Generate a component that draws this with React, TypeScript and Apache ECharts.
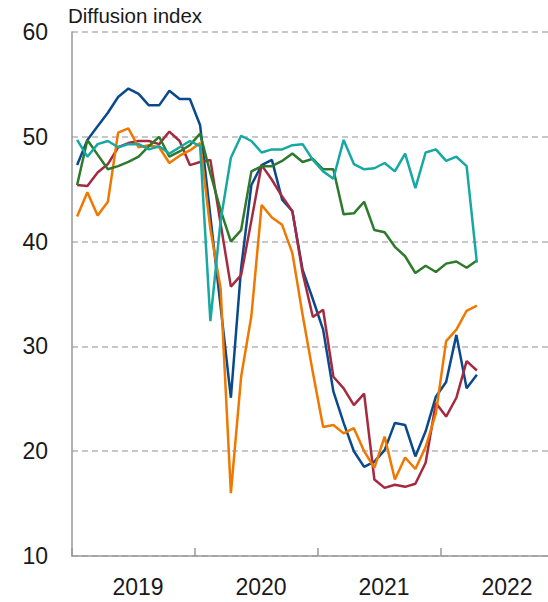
import React, { useEffect, useRef } from 'react';
import * as echarts from 'echarts';

// Monthly categories Jan 2019 .. Dec 2022 (points plotted mid-month)
const months: string[] = Array.from({ length: 48 }, (_, i) => `${2019 + Math.floor(i / 12)}-${String((i % 12) + 1).padStart(2, '0')}`);
const years = ['2019', '2020', '2021', '2022'];

const yMin = 10;
const yMax = 60;
const yStep = 10;
const yTitle = 'Diffusion index';

// Series values, Jan 2019 .. Apr 2022
const blueSeries = [47.3, 49.7, 51.0, 52.3, 53.8, 54.6, 54.1, 53.0, 53.0, 54.4, 53.6, 53.6, 51.1, 42.4, 33.8, 25.1, 37.5, 45.4, 47.3, 47.8, 44.0, 42.9, 37.3, 34.5, 31.6, 25.7, 22.7, 20.0, 18.5, 19.0, 20.1, 22.7, 22.5, 19.5, 21.9, 25.2, 26.6, 31.1, 26.0, 27.3];
const redSeries = [45.4, 45.3, 46.6, 47.4, 49.0, 49.4, 49.6, 49.6, 49.3, 50.5, 49.6, 47.3, 47.6, 47.8, 41.7, 35.7, 36.8, 42.0, 47.3, 45.9, 44.3, 42.9, 37.0, 32.8, 33.5, 27.1, 26.0, 24.4, 25.5, 17.3, 16.5, 16.8, 16.6, 16.9, 18.9, 24.6, 23.3, 25.1, 28.6, 27.7];
const orangeSeries = [42.4, 44.7, 42.5, 43.8, 50.4, 50.8, 49.0, 49.2, 49.0, 47.5, 48.2, 48.7, 49.4, 41.2, 35.5, 16.0, 27.1, 32.9, 43.5, 42.3, 41.6, 38.9, 33.0, 27.5, 22.3, 22.5, 21.7, 22.2, 20.0, 18.4, 21.4, 17.3, 19.4, 18.3, 20.4, 23.6, 30.5, 31.6, 33.4, 33.9];
const greenSeries = [45.4, 49.7, 48.3, 46.9, 47.2, 47.6, 48.1, 49.1, 50.0, 48.1, 48.6, 49.2, 50.3, 46.5, 43.0, 40.0, 41.1, 46.7, 47.2, 47.2, 47.7, 48.4, 47.6, 47.9, 46.9, 46.9, 42.6, 42.7, 43.8, 41.1, 40.9, 39.5, 38.6, 37.0, 37.7, 37.1, 37.9, 38.1, 37.5, 38.2];
const tealSeries = [49.7, 48.1, 49.3, 49.6, 49.0, 49.3, 49.3, 48.8, 49.1, 48.4, 49.0, 49.6, 49.1, 32.4, 42.0, 48.0, 50.1, 49.6, 48.5, 48.8, 48.8, 49.2, 49.3, 47.8, 46.7, 46.0, 49.7, 47.4, 46.9, 47.0, 47.5, 46.7, 48.4, 45.1, 48.5, 48.8, 47.7, 48.1, 47.2, 38.0];

const seriesList = [
  { name: 'blue', data: blueSeries, color: '#0a4a8c' },
  { name: 'red', data: redSeries, color: '#a52a40' },
  { name: 'orange', data: orangeSeries, color: '#f07800' },
  { name: 'green', data: greenSeries, color: '#2e7a2c' },
  { name: 'teal', data: tealSeries, color: '#17a8a2' },
];

const FONT = "'Liberation Sans', Arial, Helvetica, sans-serif";

export default function App() {
  const ref = useRef<HTMLDivElement>(null);
  useEffect(() => {
    if (!ref.current) return;
    const chart = echarts.init(ref.current, null, { renderer: 'svg' });
    chart.setOption({
      animation: false,
      backgroundColor: '#ffffff',
      textStyle: { fontFamily: FONT },
      grid: { left: 72, top: 32, width: 492, height: 524, containLabel: false, outerBoundsMode: 'none' },
      graphic: [
        {
          type: 'text',
          left: 68,
          top: 5,
          style: { text: yTitle, fontSize: 20.5, fill: '#1a1a1a', fontFamily: FONT },
        },
      ],
      xAxis: [
        {
          type: 'category',
          data: months,
          boundaryGap: true,
          axisLine: { show: true, lineStyle: { color: '#999', width: 1.5 } },
          axisTick: { show: true, inside: true, length: 8, interval: 11, lineStyle: { color: '#999', width: 1.5 } },
          axisLabel: { show: false },
          splitLine: { show: false },
        },
        {
          type: 'category',
          data: years,
          position: 'bottom',
          boundaryGap: true,
          axisLine: { show: false },
          axisTick: { show: false },
          axisLabel: { fontSize: 23, color: '#1a1a1a', margin: 19, fontFamily: FONT, padding: [0, 0, 0, 9] },
          splitLine: { show: false },
        },
      ],
      yAxis: {
        type: 'value',
        min: yMin,
        max: yMax,
        interval: yStep,
        axisLine: { show: true, lineStyle: { color: '#999', width: 1.5 } },
        axisTick: { show: false },
        axisLabel: { fontSize: 23, color: '#1a1a1a', margin: 24, fontFamily: FONT },
        splitLine: { show: true, lineStyle: { color: '#b5b5b5', type: [6, 4], width: 1.5 } },
      },
      series: seriesList.map((s) => ({
        name: s.name,
        type: 'line',
        xAxisIndex: 0,
        data: s.data,
        symbol: 'none',
        lineStyle: { color: s.color, width: 2.5 },
        itemStyle: { color: s.color },
      })),
    });
    return () => chart.dispose();
  }, []);
  return <div ref={ref} style={{ position: 'absolute', left: 0, top: 0, width: 548, height: 602 }} />;
}
